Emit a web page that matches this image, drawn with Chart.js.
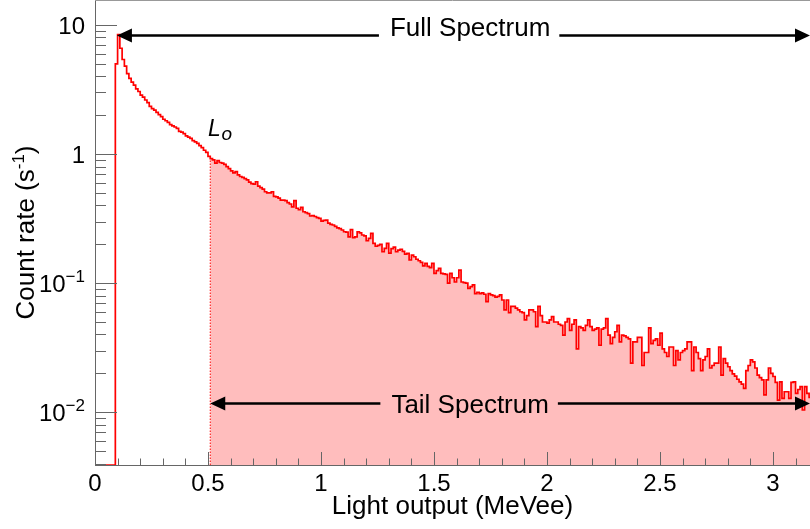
<!DOCTYPE html>
<html lang="en">
<head>
  <meta charset="UTF-8" />
  <title>Light output spectrum</title>
  <script src="https://cdn.jsdelivr.net/npm/chart.js"></script>
  <style>
    html, body { margin: 0; padding: 0; background: #fff; }
    .chart-container { position: relative; width: 810px; height: 529px; }
  </style>
</head>
<body>

  <div class="chart-container">
    <canvas id="spectrum"></canvas>
  </div>

  <script>
    // Count rate (s^-1) per 0.01 MeVee bin, first bin starts at 0 MeVee
    const binStart = 0;
    const binWidth = 0.01;
    const countRate = [
      0, 0, 0, 0, 0, 0, 0, 0, 0, 5.0,
      8.4, 6.6, 5.4, 4.8, 4.2, 3.85, 3.6, 3.42, 3.2, 3.05,
      2.86, 2.76, 2.62, 2.5, 2.34, 2.25, 2.19, 2.1, 2.02, 1.95,
      1.86, 1.81, 1.76, 1.69, 1.65, 1.62, 1.58, 1.5, 1.48, 1.44,
      1.38, 1.35, 1.32, 1.27, 1.24, 1.21, 1.16, 1.12, 1.07, 1.03,
      0.96, 0.92, 0.90, 0.85, 0.89, 0.86, 0.85, 0.83, 0.80, 0.77,
      0.74, 0.715, 0.73, 0.69, 0.67, 0.66, 0.645, 0.63, 0.605, 0.59,
      0.585, 0.61, 0.565, 0.55, 0.535, 0.51, 0.50, 0.50, 0.51, 0.47,
      0.465, 0.455, 0.44, 0.44, 0.435, 0.42, 0.41, 0.39, 0.435, 0.38,
      0.37, 0.386, 0.357, 0.352, 0.345, 0.331, 0.333, 0.328, 0.322, 0.317,
      0.302, 0.306, 0.308, 0.292, 0.285, 0.282, 0.275, 0.268, 0.264, 0.258,
      0.25, 0.248, 0.228, 0.26, 0.225, 0.228, 0.25, 0.245, 0.236, 0.232,
      0.213, 0.222, 0.243, 0.203, 0.193, 0.196, 0.20, 0.175, 0.186, 0.203,
      0.171, 0.185, 0.19, 0.175, 0.18, 0.183, 0.176, 0.168, 0.17, 0.151,
      0.165, 0.16, 0.153, 0.149, 0.145, 0.136, 0.142, 0.135, 0.132, 0.142,
      0.119, 0.125, 0.13, 0.119, 0.118, 0.117, 0.10, 0.119, 0.11, 0.102,
      0.11, 0.126, 0.102, 0.101, 0.10, 0.091, 0.094, 0.097, 0.083, 0.085,
      0.083, 0.084, 0.082, 0.072, 0.083, 0.081, 0.08, 0.078, 0.079, 0.081,
      0.074, 0.062, 0.074, 0.059, 0.066, 0.066, 0.064, 0.062, 0.06, 0.059,
      0.052, 0.056, 0.062, 0.062, 0.06, 0.046, 0.066, 0.056, 0.05, 0.05,
      0.049, 0.052, 0.055, 0.05, 0.05, 0.048, 0.047, 0.0396, 0.05, 0.053,
      0.043, 0.048, 0.052, 0.031, 0.046, 0.045, 0.043, 0.047, 0.052, 0.046,
      0.043, 0.044, 0.045, 0.033, 0.044, 0.045, 0.053, 0.0396, 0.034, 0.038,
      0.042, 0.047, 0.035, 0.0396, 0.039, 0.038, 0.037, 0.024, 0.035, 0.035,
      0.038, 0.038, 0.023, 0.029, 0.029, 0.045, 0.034, 0.036, 0.037, 0.033,
      0.041, 0.031, 0.029, 0.027, 0.032, 0.032, 0.023, 0.030, 0.0254, 0.029,
      0.030, 0.031, 0.035, 0.035, 0.021, 0.032, 0.029, 0.026, 0.021, 0.0254,
      0.027, 0.031, 0.022, 0.023, 0.024, 0.024, 0.032, 0.0194, 0.026, 0.024,
      0.0225, 0.021, 0.0198, 0.019, 0.018, 0.0172, 0.0165, 0.0153, 0.021, 0.023,
      0.0254, 0.0245, 0.022, 0.0194, 0.0185, 0.0178, 0.0136, 0.0178, 0.022, 0.020,
      0.0189, 0.017, 0.0124, 0.0172, 0.0128, 0.0144, 0.0144, 0.0128, 0.017, 0.0172,
      0.014, 0.015, 0.0158, 0.0104, 0.0158, 0.014, 0.013
    ];
    const tailStart = 0.51;   // L_o, start of the tail spectrum

    const xRange = [0, 3.164];
    const yRange = [0.0039, 15.6];
    const xTicks = [0, 0.5, 1, 1.5, 2, 2.5, 3];
    const xTickLabels = ['0', '0.5', '1', '1.5', '2', '2.5', '3'];
    const yTicks = [0.01, 0.1, 1, 10];
    const yTickBase = ['10', '10', '1', '10'];
    const yTickExp = ['\u22122', '\u22121', '', ''];

    const FONT = "'Liberation Sans', Arial, Helvetica, sans-serif";

    // Build histogram points (value holds from bin edge to next edge)
    const edges = countRate.map((_, i) => +(binStart + i * binWidth).toFixed(4));
    const fullPoints = countRate.map((v, i) => ({ x: edges[i], y: v > 0 ? v : yRange[0] }));
    fullPoints.push({ x: binStart + countRate.length * binWidth, y: yRange[0] });

    const tailIndex = edges.findIndex(e => e >= tailStart - 1e-9);
    const tailPoints = fullPoints.slice(tailIndex);

    const loLine = [
      { x: tailStart, y: yRange[0] },
      { x: tailStart, y: countRate[tailIndex] }
    ];

    // Annotations: arrows with labels (data coordinates)
    const arrows = [
      { from: 0.097, to: xRange[1], y: 8.3, text: 'Full Spectrum', at: 1.66, baseline: 1 },
      { from: tailStart, to: xRange[1], y: 0.0117, text: 'Tail Spectrum', at: 1.66, baseline: 10 }
    ];

    function drawArrow(ctx, x1, x2, y, gapL, gapR) {
      const head = 15, half = 7;
      ctx.strokeStyle = '#000';
      ctx.fillStyle = '#000';
      ctx.lineWidth = 2.5;
      ctx.beginPath();
      ctx.moveTo(x1 + head - 2, y); ctx.lineTo(gapL, y);
      ctx.moveTo(gapR, y); ctx.lineTo(x2 - head + 2, y);
      ctx.stroke();
      ctx.beginPath();
      ctx.moveTo(x1, y); ctx.lineTo(x1 + head, y - half); ctx.lineTo(x1 + head, y + half); ctx.closePath();
      ctx.moveTo(x2, y); ctx.lineTo(x2 - head, y - half); ctx.lineTo(x2 - head, y + half); ctx.closePath();
      ctx.fill();
    }

    // text with a raised, smaller exponent; (x, y) is the right end of the baseline
    function drawPower(ctx, base, exp, xRight, y) {
      ctx.font = '17px ' + FONT;
      const ew = exp ? ctx.measureText(exp).width : 0;
      ctx.fillText(exp, xRight - ew, y - 10);
      ctx.font = '24px ' + FONT;
      const bw = ctx.measureText(base).width;
      ctx.fillText(base, xRight - ew - bw, y);
    }

    const decorations = {
      id: 'decorations',
      afterDatasetsDraw(chart) {
        const { ctx, chartArea: a, scales: { x, y } } = chart;
        ctx.save();

        // top frame line
        ctx.strokeStyle = '#999';
        ctx.lineWidth = 1;
        ctx.beginPath();
        ctx.moveTo(a.left, a.top + 0.5); ctx.lineTo(a.right, a.top + 0.5);
        ctx.stroke();

        // inward tick marks
        ctx.strokeStyle = '#666';
        ctx.beginPath();
        for (let i = 0; i * 0.1 <= xRange[1]; i++) {
          const px = Math.round(x.getPixelForValue(i * 0.1)) + 0.5;
          const len = i % 5 === 0 ? 13 : 6.5;
          ctx.moveTo(px, a.bottom); ctx.lineTo(px, a.bottom - len);
        }
        for (let e = -3; e <= 1; e++) {
          for (let k = 1; k <= 9; k++) {
            const v = k * Math.pow(10, e);
            if (v < yRange[0] || v > yRange[1]) continue;
            const py = Math.round(y.getPixelForValue(v)) + 0.5;
            const len = k === 1 ? 22 : 11;
            ctx.moveTo(a.left, py); ctx.lineTo(a.left + len, py);
          }
        }
        ctx.stroke();

        // y tick labels with exponents
        ctx.fillStyle = '#000';
        ctx.textAlign = 'left';
        ctx.textBaseline = 'alphabetic';
        yTicks.forEach((v, i) => {
          drawPower(ctx, yTickBase[i], yTickExp[i], a.left - 10, y.getPixelForValue(v) + 9);
        });

        // y axis title, rotated
        ctx.save();
        ctx.translate(34, (a.top + a.bottom) / 2);
        ctx.rotate(-Math.PI / 2);
        ctx.font = '26px ' + FONT;
        const t1 = 'Count rate (s', t3 = ')';
        const w1 = ctx.measureText(t1).width, w3 = ctx.measureText(t3).width;
        ctx.font = '17px ' + FONT;
        const t2 = '-1', w2 = ctx.measureText(t2).width;
        let tx = -(w1 + w2 + w3) / 2;
        ctx.font = '26px ' + FONT;
        ctx.fillText(t1, tx, 0);
        ctx.font = '17px ' + FONT;
        ctx.fillText(t2, tx + w1, -10);
        ctx.font = '26px ' + FONT;
        ctx.fillText(t3, tx + w1 + w2, 0);
        ctx.restore();

        // arrows and their labels
        ctx.font = '26px ' + FONT;
        ctx.textAlign = 'center';
        arrows.forEach(ar => {
          const py = y.getPixelForValue(ar.y);
          const cx = x.getPixelForValue(ar.at);
          const w = ctx.measureText(ar.text).width;
          drawArrow(ctx, x.getPixelForValue(ar.from), x.getPixelForValue(ar.to), py,
            cx - w / 2 - 11, cx + w / 2 + 9);
          ctx.fillStyle = '#000';
          ctx.fillText(ar.text, cx, py + ar.baseline);
        });

        // L_o label
        const lx = x.getPixelForValue(0.5);
        const ly = y.getPixelForValue(1.38);
        ctx.textAlign = 'left';
        ctx.font = 'italic 23px ' + FONT;
        ctx.fillText('L', lx, ly);
        ctx.font = 'italic 19px ' + FONT;
        ctx.fillText('o', lx + 13.5, ly + 4.5);

        ctx.restore();
      }
    };

    new Chart(document.getElementById('spectrum'), {
      type: 'line',
      data: {
        datasets: [
          {
            label: 'Full spectrum',
            data: fullPoints,
            stepped: 'before',
            borderColor: '#ff0000',
            borderWidth: 1.7,
            pointRadius: 0,
            fill: false
          },
          {
            label: 'Lo',
            data: loLine,
            borderColor: '#ff0000',
            borderWidth: 1,
            borderDash: [1.5, 1.5],
            pointRadius: 0,
            fill: false
          },
          {
            label: 'Tail spectrum',
            data: tailPoints,
            stepped: 'before',
            borderWidth: 0,
            borderColor: 'rgba(0,0,0,0)',
            backgroundColor: '#ffbdbd',
            pointRadius: 0,
            fill: 'start'
          }
        ]
      },
      options: {
        responsive: true,
        maintainAspectRatio: false,
        animation: false,
        layout: { padding: 0 },
        plugins: { legend: { display: false }, tooltip: { enabled: false } },
        scales: {
          x: {
            type: 'linear',
            min: xRange[0],
            max: xRange[1],
            afterBuildTicks: s => { s.ticks = xTicks.map(v => ({ value: v })); },
            afterFit: s => { s.height = 64; s.paddingLeft = 0; s.paddingRight = 0; },
            ticks: {
              callback: (v, i) => xTickLabels[i],
              autoSkip: false, maxRotation: 0,
              font: { family: FONT, size: 24 }, color: '#000', padding: 5
            },
            grid: { drawOnChartArea: false, drawTicks: false },
            border: { color: '#666', width: 1 },
            title: {
              display: true, text: 'Light output (MeVee)', color: '#000',
              font: { family: FONT, size: 26 }, padding: { top: 0, bottom: 7 }
            }
          },
          y: {
            type: 'logarithmic',
            min: yRange[0],
            max: yRange[1],
            afterBuildTicks: s => { s.ticks = yTicks.map(v => ({ value: v })); },
            afterFit: s => { s.width = 95; s.paddingTop = 0; s.paddingBottom = 0; },
            ticks: { display: false },
            grid: { drawOnChartArea: false, drawTicks: false },
            border: { color: '#666', width: 1 },
            title: { display: false }
          }
        }
      },
      plugins: [decorations]
    });
  </script>
</body>
</html>
